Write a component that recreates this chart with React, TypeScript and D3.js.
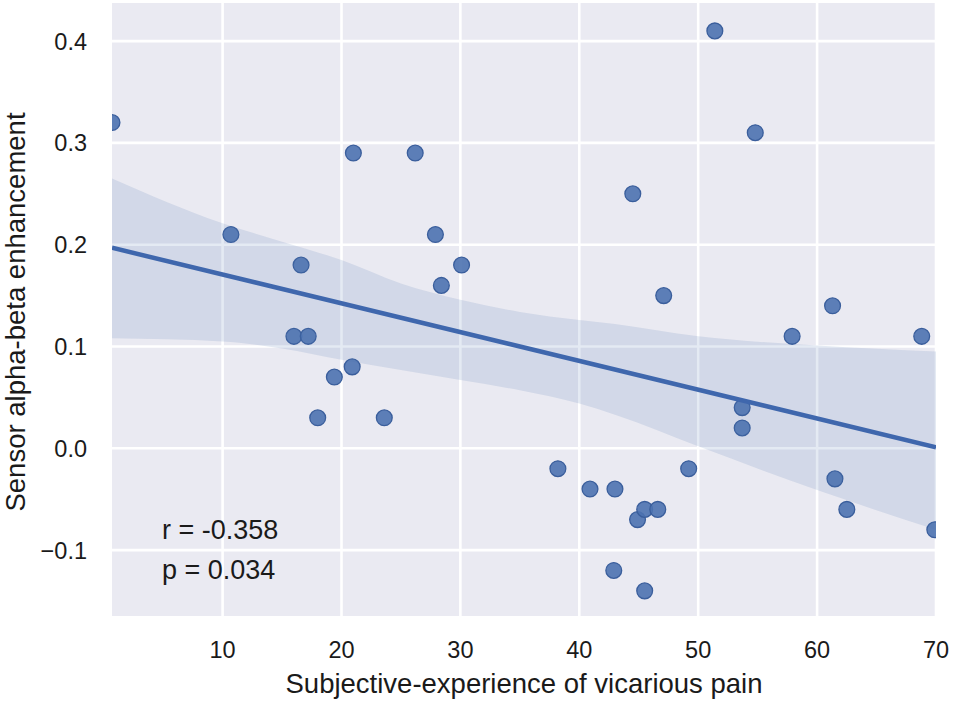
import React from "react";
import * as d3 from "d3";

// Scatter data (x: subjective experience of vicarious pain, y: sensor alpha-beta enhancement)
const pointX = [
  0.7, 10.7, 16.6, 16.0, 17.2, 21.0, 26.2, 27.9, 28.4, 30.1, 19.4, 20.9, 18.0, 23.6,
  44.5, 47.1, 51.4, 54.8, 57.9, 61.3, 68.8, 53.7, 53.7, 38.2, 40.9, 43.0, 49.2, 61.5,
  62.5, 69.9, 44.9, 45.5, 46.6, 42.9, 45.5,
];
const pointY = [
  0.32, 0.21, 0.18, 0.11, 0.11, 0.29, 0.29, 0.21, 0.16, 0.18, 0.07, 0.08, 0.03, 0.03,
  0.25, 0.15, 0.41, 0.31, 0.11, 0.14, 0.11, 0.04, 0.02, -0.02, -0.04, -0.04, -0.02, -0.03,
  -0.06, -0.08, -0.07, -0.06, -0.06, -0.12, -0.14,
];

// Regression line endpoints
const fitX = [0.7, 70];
const fitY = [0.197, 0.001];

// Confidence band
const bandX = [0.7, 10, 15, 20, 25, 30, 35, 40, 43, 50, 60, 70];
const bandUpper = [0.265, 0.221, 0.203, 0.185, 0.162, 0.146, 0.134, 0.126, 0.122, 0.11, 0.101, 0.095];
const bandLower = [0.108, 0.105, 0.098, 0.087, 0.077, 0.067, 0.057, 0.044, 0.033, 0.002, -0.041, -0.08];

const xTicks = [10, 20, 30, 40, 50, 60, 70];
const yTicks = [-0.1, 0.0, 0.1, 0.2, 0.3, 0.4];

const xDomain = [0.7, 70];
const yDomain = [-0.1647, 0.4374];

const annotations = ["r = -0.358", "p = 0.034"];
const xLabel = "Subjective-experience of vicarious pain";
const yLabel = "Sensor alpha-beta enhancement";

const W = 954;
const H = 701;
const M = { left: 112, right: 936, top: 3, bottom: 616 };
const FONT = "'Liberation Sans', Arial, Helvetica, sans-serif";
const BLUE = "#4C72B0";

export default function App() {
  const x = d3.scaleLinear().domain(xDomain).range([M.left, M.right]);
  const y = d3.scaleLinear().domain(yDomain).range([M.bottom, M.top]);

  const bandData = bandX.map((v, i) => ({ x: v, lo: bandLower[i], hi: bandUpper[i] }));
  const area = d3
    .area<{ x: number; lo: number; hi: number }>()
    .x((d) => x(d.x))
    .y0((d) => y(d.lo))
    .y1((d) => y(d.hi))
    .curve(d3.curveMonotoneX);

  const line = d3
    .line<number>()
    .x((_, i) => x(fitX[i]))
    .y((d) => y(d));

  const fmtY = (v: number) => (v < 0 ? "\u2212" : "") + Math.abs(v).toFixed(1);

  return (
    <svg
      width={W}
      height={H}
      style={{ position: "absolute", left: 0, top: 0, display: "block", background: "#fff" }}
    >
      <defs>
        <clipPath id="plot-clip">
          <rect x={M.left} y={M.top} width={M.right - M.left} height={M.bottom - M.top} />
        </clipPath>
      </defs>
      <rect x={M.left} y={M.top} width={M.right - M.left} height={M.bottom - M.top} fill="#EAEAF2" />
      <g>
        {xTicks.map((t) => (
          <line key={"gx" + t} x1={x(t)} x2={x(t)} y1={M.top} y2={M.bottom} stroke="#fff" strokeWidth={2.6} />
        ))}
        {yTicks.map((t) => (
          <line key={"gy" + t} x1={M.left} x2={M.right} y1={y(t)} y2={y(t)} stroke="#fff" strokeWidth={2.6} />
        ))}
      </g>
      <g clipPath="url(#plot-clip)">
        {pointX.map((px, i) => (
          <circle
            key={"p" + i}
            cx={x(px)}
            cy={y(pointY[i])}
            r={7.9}
            fill={BLUE}
            fillOpacity={0.9}
            stroke="#3A5E9C"
            strokeWidth={1.3}
          />
        ))}
        <path d={area(bandData) || ""} fill={BLUE} fillOpacity={0.15} />
        <path d={line(fitY) || ""} fill="none" stroke="#3F67AD" strokeWidth={4.5} />
      </g>
      <g fontFamily={FONT} fill="#1a1a1a">
        {xTicks.map((t) => (
          <text key={"tx" + t} x={x(t)} y={658} fontSize={23.5} textAnchor="middle">
            {t}
          </text>
        ))}
        {yTicks.map((t) => (
          <text key={"ty" + t} x={87} y={y(t) + 8.5} fontSize={23.5} textAnchor="end">
            {fmtY(t)}
          </text>
        ))}
        <text x={(M.left + M.right) / 2} y={693} fontSize={27.5} textAnchor="middle">
          {xLabel}
        </text>
        <text transform={`translate(25, 312) rotate(-90)`} fontSize={27.5} textAnchor="middle">
          {yLabel}
        </text>
        {annotations.map((a, i) => (
          <text key={"a" + i} x={162} y={539 + i * 40} fontSize={27}>
            {a}
          </text>
        ))}
      </g>
    </svg>
  );
}
